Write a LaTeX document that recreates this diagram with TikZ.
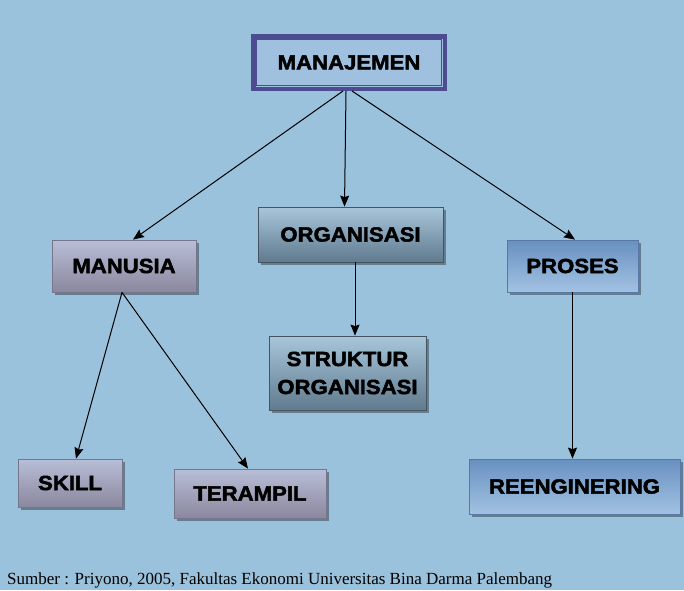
\documentclass[tikz,border=0pt]{standalone}
\usepackage{fontspec}
\setmainfont{Liberation Serif}
\newfontfamily\boxfont{Liberation Sans}[FakeStretch=1.08, BoldFeatures={FakeBold=2.2}]
\usetikzlibrary{arrows.meta,shadows}
\definecolor{bg}{RGB}{155,194,220}
\definecolor{mgrline}{RGB}{78,76,145}
\definecolor{mgrfill}{RGB}{160,192,224}
\definecolor{purtop}{RGB}{184,190,215}
\definecolor{purbot}{RGB}{138,136,158}
\definecolor{purline}{RGB}{120,118,140}
\definecolor{gbtop}{RGB}{168,198,218}
\definecolor{gbbot}{RGB}{96,122,142}
\definecolor{gbline}{RGB}{70,84,96}
\definecolor{bltop}{RGB}{104,144,192}
\definecolor{blbot}{RGB}{162,194,226}
\definecolor{blline}{RGB}{90,120,165}
\tikzset{
  lbl/.style={font=\boxfont\bfseries\fontsize{20.5}{24}\selectfont, align=center, inner sep=0pt},
  shad/.style={drop shadow={shadow xshift=2.5pt, shadow yshift=-2.5pt, fill=black, opacity=0.35}},
  purbox/.style={lbl, shad, draw=purline, line width=0.8pt, top color=purtop, bottom color=purbot},
  gbbox/.style={lbl, shad, draw=gbline, line width=0.8pt, top color=gbtop, bottom color=gbbot},
  blbox/.style={lbl, shad, draw=blline, line width=0.8pt, top color=bltop, bottom color=blbot},
  mgrbox/.style={lbl, draw=mgrline, line width=4.5pt, fill=mgrfill},
  arr/.style={-{Stealth[length=11pt,width=9pt,inset=1.5pt]}, line width=1pt, black}
}
\begin{document}
\begin{tikzpicture}[x=1pt,y=-1pt]
\fill[bg] (0,0) rectangle (684,590);
\useasboundingbox (0,0) rectangle (684,590);

\node[mgrbox, minimum width=191.5pt, minimum height=52.5pt] (man) at (349,62.5) {MANAJEMEN};
\draw[mgrline, line width=1.4pt] ([shift={(5.5pt,-5.5pt)}]man.north west) rectangle ([shift={(-5.5pt,5.5pt)}]man.south east);

\node[purbox, minimum width=144pt, minimum height=52pt] (manusia) at (124,266) {MANUSIA};
\node[gbbox, minimum width=185pt, minimum height=55pt] (org) at (350.5,234.5) {ORGANISASI};
\node[gbbox, minimum width=157pt, minimum height=74pt] (struk) at (347.5,373) {STRUKTUR\\[4pt]ORGANISASI};
\node[blbox, minimum width=131pt, minimum height=52pt] (proses) at (572.5,266) {PROSES};
\node[purbox, minimum width=104pt, minimum height=48pt] (skill) at (70,483) {SKILL};
\node[purbox, minimum width=152pt, minimum height=49pt] (terampil) at (250,493.5) {TERAMPIL};
\node[blbox, minimum width=211pt, minimum height=55pt] (reeng) at (574.5,486.5) {REENGINERING};

\draw[arr] ([xshift=-6pt]man.south) -- ([xshift=9pt]manusia.north);
\draw[arr] ([xshift=-3pt]man.south) -- ([xshift=-4.5pt]man.south |- org.north);
\draw[arr] ([xshift=3pt]man.south) -- ([xshift=2.5pt]proses.north);
\draw[arr] ([xshift=-2pt]manusia.south) -- ([xshift=6pt]skill.north);
\draw[arr] ([xshift=-2pt]manusia.south) -- ([xshift=-2pt]terampil.north);
\draw[arr] ([xshift=4.5pt]org.south) -- ([xshift=4.5pt]org.south |- struk.north);
\draw[arr] (proses.south) -- (proses.south |- reeng.north);

\node[anchor=west, inner sep=0pt, font=\fontsize{17}{19}\selectfont] (src) at (7,580) {Sumber : Priyono, 2005, Fakultas Ekonomi Universitas Bina Darma Palembang};
\end{tikzpicture}
\end{document}
